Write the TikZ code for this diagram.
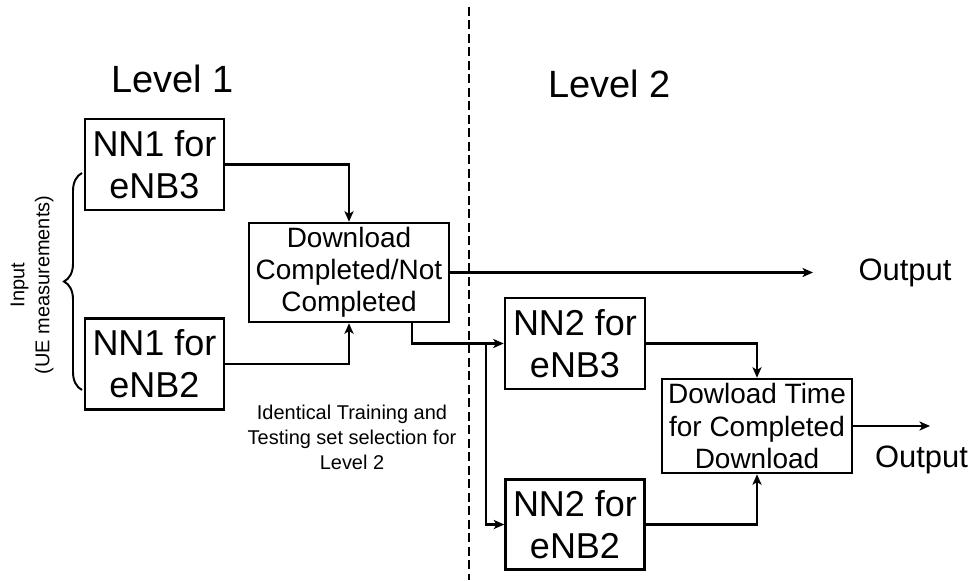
\documentclass[tikz,border=0pt]{standalone}
\usepackage{fontspec}
\setsansfont{Liberation Sans}
\usetikzlibrary{shapes,arrows,arrows.meta,positioning,decorations.pathreplacing}

\begin{document}
\begin{tikzpicture}[
  nnbox/.style={draw=black,line width=1.8pt,align=center,inner sep=0pt,minimum width=3.475cm,minimum height=2.275cm,font=\sffamily\fontsize{25.6}{29.9}\selectfont},
  decbox/.style={draw=black,line width=1.8pt,align=center,inner sep=0pt,font=\sffamily\fontsize{19.9}{22.8}\selectfont},
  lvl/.style={align=center,font=\sffamily\fontsize{27}{32}\selectfont},
  outtxt/.style={align=center,font=\sffamily\fontsize{22}{26}\selectfont},
  note/.style={align=center,font=\sffamily\fontsize{14.2}{17.8}\selectfont},
  conn/.style={-{Stealth[length=7.5pt,width=6.5pt,inset=2pt]},line width=1.5pt}]
\useasboundingbox (0,0) rectangle (24.325,-14.525);
% Level 1
\draw(4.3125,-1.9625) node[lvl](L1){Level 1};
\draw(3.8625,-4.1125) node[nnbox](N13){NN1 for\\eNB3};
\node[below=2.65 of N13, nnbox](N12){NN1 for\\eNB2};
\node[decbox, minimum width=5cm, minimum height=2.475cm] (DC) at (8.725,-6.8125) {Download\\Completed/Not\\Completed};
\node[note] (ID) at (8.8,-10.925) {Identical Training and\\Testing set selection for\\Level 2};
\node[note, rotate=90] (IN) at (0.8,-7.125) {Input\\(UE measurements)};
\draw[decorate,decoration={brace,amplitude=0.45cm},line width=1.4pt] (2.05,-9.75) -- (2.05,-4.325);
\coordinate (O1e) at (20.325,-6.8125);
\node[outtxt] (O1) at (22.625,-6.825) {Output};
% Divider
\coordinate (T) at (11.725,-0.175);
\coordinate (B) at (11.725,-14.5);
\draw[dash pattern=on 6.4pt off 3.2pt, line width=1.5pt] (T) -- (B);

% Level 2
\draw(15.2375,-2.0875) node[lvl](L2){Level 2};
\draw(14.375,-8.5875) node[nnbox, minimum width=3.5cm](N23){NN2 for\\eNB3};
\node[below=2.2 of N23, nnbox, minimum height=2.25cm](N22){NN2 for\\eNB2};
\node[decbox, minimum width=4.75cm, minimum height=2.35cm] (DT) at (18.925,-10.65) {Dowload Time\\for Completed\\Download};
\coordinate (O2e) at (23.25,-10.65);
\node[outtxt] (O2) at (23.0375,-11.5) {Output};

% Arrows
\draw[conn] (N13.east) -| (DC.north);
\draw[conn] (N12.east) -| (DC.south);
\draw[conn] (DC.east) -- (O1e);
\draw[conn] ([xshift=1.575cm]DC.south) |- (N23.west);
\coordinate (SP) at ([xshift=-0.45cm]N23.west);
\draw[conn] (SP) |- (N22.west);
%% Arrows
\draw[conn] (N23.east) -| (DT.north);
\draw[conn] (N22.east) -| (DT.south);
\draw[conn] (DT.east) -- (O2e);
\end{tikzpicture}
\end{document}
